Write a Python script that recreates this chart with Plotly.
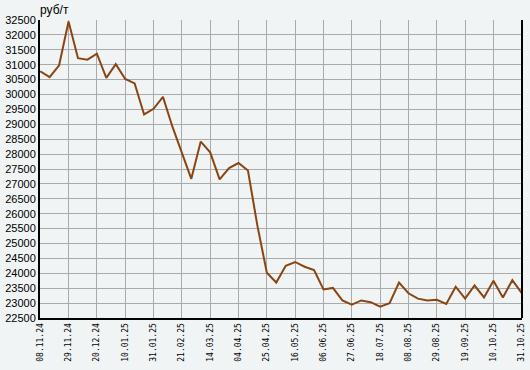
import plotly.graph_objects as go
import pandas as pd

# weekly observations, 08.11.24 .. 31.10.25
dates = pd.date_range("2024-11-08", periods=52, freq="7D")
prices = [
    30780, 30580, 30980, 32450, 31220, 31170, 31370, 30560, 31020, 30520,
    30370, 29330, 29520, 29920, 28920, 28030, 27170, 28420, 28060, 27150,
    27530, 27700, 27450, 25600, 24020, 23690, 24250, 24380, 24220, 24110,
    23460, 23510, 23090, 22950, 23090, 23030, 22880, 23000, 23690, 23330,
    23150, 23090, 23110, 22970, 23550, 23150, 23590, 23190, 23750, 23190,
    23770, 23330,
]

tick_dates = pd.date_range("2024-11-08", periods=18, freq="21D")
tick_labels = [
    "08.11.24", "29.11.24", "20.12.24", "10.01.25", "31.01.25", "21.02.25",
    "14.03.25", "04.04.25", "25.04.25", "16.05.25", "06.06.25", "27.06.25",
    "18.07.25", "08.08.25", "29.08.25", "19.09.25", "10.10.25", "31.10.25",
]
y_ticks = list(range(22500, 32501, 500))

bg = "#f1f4f5"
fig = go.Figure()
fig.add_trace(go.Scatter(
    x=dates, y=prices, mode="lines",
    line=dict(color="#8b4513", width=2),
    hoverinfo="skip",
))

fig.update_layout(
    width=530, height=370,
    margin=dict(l=40, r=4, t=20, b=52),
    paper_bgcolor=bg, plot_bgcolor=bg,
    showlegend=False,
    font=dict(family="Liberation Sans, Arial, sans-serif", size=11, color="#000"),
)
fig.update_xaxes(
    range=[tick_dates[0] - pd.Timedelta(hours=4), tick_dates[-1] + pd.Timedelta(hours=4)],
    tickmode="array", tickvals=list(tick_dates), ticktext=tick_labels,
    tickangle=-90, ticklabeloverflow="allow",
    tickfont=dict(family="DejaVu Sans Mono", size=8, color="#000"),
    showgrid=True, gridcolor="#aaaaaa", gridwidth=1,
    showline=True, linecolor="#000", linewidth=2,
    zeroline=False, ticks="",
)
fig.update_yaxes(
    range=[22500, 32500],
    tickmode="array", tickvals=y_ticks, ticktext=[str(v) for v in y_ticks],
    showgrid=True, gridcolor="#aaaaaa", gridwidth=1,
    showline=True, linecolor="#000", linewidth=2,
    zeroline=False, ticks="",
)
fig.add_shape(type="line", xref="paper", yref="paper", x0=1, x1=1, y0=0, y1=1,
              line=dict(color="#000", width=2))
fig.add_annotation(text="руб/т", xref="paper", yref="paper", x=0.0, y=1.0,
                   xanchor="left", yanchor="bottom", yshift=1, xshift=-2, showarrow=False,
                   font=dict(family="Liberation Sans, Arial, sans-serif", size=12, color="#000"))

fig.write_html("out.html")
